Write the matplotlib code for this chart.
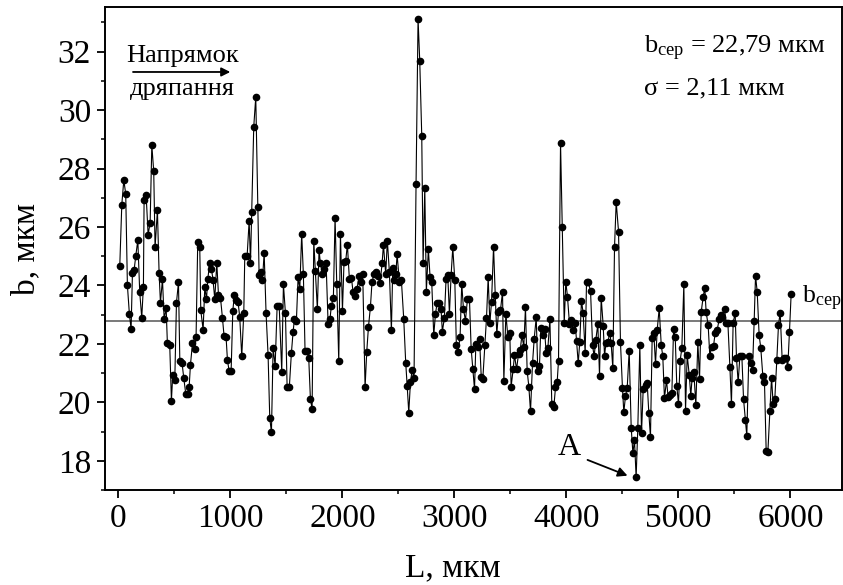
import matplotlib
matplotlib.use("Agg")
import matplotlib.pyplot as plt
from matplotlib.ticker import MultipleLocator

plt.rcParams['font.family'] = ['Liberation Serif', 'DejaVu Serif']
plt.rcParams['mathtext.fontset'] = 'custom'
plt.rcParams['mathtext.rm'] = 'Liberation Serif'
plt.rcParams['mathtext.it'] = 'Liberation Serif:italic'

# Scratch position along the track, µm
L_um = [
    12, 30, 48, 65, 80, 98, 113, 125, 140, 155, 173, 190, 208, 223, 229, 247, 265, 283, 298, 315,
    327, 348, 363, 375, 393, 408, 426, 437, 458, 473, 485, 503, 518, 536, 548, 568, 583, 601, 619, 631,
    643, 661, 682, 693, 708, 726, 735, 756, 771, 786, 798, 815, 830, 845, 860, 878, 893, 911, 929, 943,
    961, 973, 988, 1006, 1021, 1036, 1054, 1068, 1083, 1101, 1119, 1128, 1149, 1167, 1179, 1190, 1208, 1226, 1244, 1256,
    1274, 1286, 1301, 1318, 1336, 1351, 1366, 1381, 1399, 1417, 1435, 1458, 1473, 1491, 1506,
    1526, 1544, 1559, 1571, 1589, 1604, 1619, 1636, 1651, 1666, 1684, 1699, 1714, 1729, 1744, 1758, 1776, 1791, 1803, 1821,
    1839, 1854, 1872, 1889, 1901, 1919, 1934, 1949, 1967, 1982, 2000, 2014, 2029, 2044, 2062, 2080, 2095, 2110, 2130, 2148,
    2166, 2181, 2202, 2217, 2232, 2250, 2264, 2282, 2300, 2318, 2336, 2354, 2366, 2386, 2401, 2419, 2437, 2449, 2464, 2476,
    2488, 2508, 2526, 2547, 2565, 2578, 2592, 2607, 2622, 2639, 2657, 2675, 2690, 2708, 2720, 2735, 2749, 2767, 2782, 2797,
    2815, 2830, 2845, 2863, 2880, 2892, 2910, 2925, 2940, 2955, 2970, 2985, 3003, 3017, 3032, 3050, 3065, 3080, 3098,
    3116, 3134, 3149, 3164, 3179, 3191, 3209, 3224, 3239, 3253, 3271, 3286, 3301, 3316, 3331, 3349, 3364, 3378, 3393, 3411,
    3429, 3441, 3459, 3477, 3494, 3506, 3524, 3536, 3554, 3572, 3587, 3602, 3619, 3634, 3649, 3664, 3679, 3697, 3712, 3730,
    3744, 3759, 3771, 3789, 3804, 3819, 3834, 3852, 3869, 3887, 3902, 3917, 3929, 3947, 3962, 3980, 3994, 4009, 4027, 4042,
    4060, 4078, 4090, 4105, 4119, 4134, 4149, 4167, 4179, 4194, 4215, 4233, 4247, 4262, 4280, 4295, 4310, 4328, 4340, 4352,
    4369, 4387, 4399, 4414, 4429, 4444, 4465, 4482, 4500, 4512, 4527, 4542, 4560, 4578, 4593, 4607, 4622, 4637, 4655, 4670,
    4685,
    4706, 4721, 4735, 4750, 4765, 4780, 4795, 4810, 4828, 4846, 4860, 4875, 4893, 4908, 4923, 4941, 4956, 4971, 4985, 5000,
    5015, 5030, 5048, 5063, 5078, 5096, 5110, 5122, 5137, 5155, 5173, 5188, 5203, 5220, 5235, 5247, 5265, 5280, 5295, 5313,
    5328, 5346, 5363, 5378, 5393, 5411, 5426, 5441, 5459, 5473, 5488, 5506, 5518, 5533, 5548, 5566, 5581, 5598, 5610, 5628,
    5646, 5661, 5676, 5688, 5703, 5720, 5735, 5753, 5768, 5783, 5798, 5816, 5831, 5845, 5860, 5878, 5893, 5908, 5926, 5941,
    5959, 5976, 5991, 6006,
]

# Scratch width b, µm
b_um = [
    24.68, 26.77, 27.61, 27.13, 24.00, 23.01, 22.51, 24.42, 24.53, 25.02, 25.55, 23.77, 22.90, 23.96, 26.94, 27.11, 25.74, 26.15, 28.80, 27.91,
    25.30, 26.57, 24.42, 23.41, 24.21, 22.86, 23.22, 22.02, 21.95, 20.06, 20.95, 20.75, 23.41, 24.11, 21.42, 21.34, 20.84, 20.29, 20.29, 20.51,
    21.29, 22.02, 21.84, 22.23, 25.50, 25.30, 23.15, 22.49, 23.94, 23.53, 24.23, 24.78, 24.58, 24.17, 23.53, 24.78, 23.68, 23.58, 22.87, 22.27,
    22.23, 21.46, 21.07, 21.07, 23.14, 23.69, 23.51, 23.44, 22.91, 21.57, 23.05, 25.02, 25.02, 26.21, 24.78, 26.51, 29.43, 30.45, 26.70, 24.35,
    24.47, 24.19, 25.12, 23.05, 21.62, 19.46, 18.97, 21.87, 21.25, 23.31, 23.31, 21.05, 24.04, 23.05, 20.52,
    20.54, 21.68, 22.40, 22.84, 22.80, 24.30, 23.87, 25.77, 24.39, 21.76, 21.76, 21.51, 20.11, 19.77, 25.52, 24.51, 23.19, 25.22, 24.76, 24.39,
    24.55, 24.76, 22.68, 22.86, 23.31, 23.58, 26.32, 24.05, 21.40, 25.77, 23.14, 24.81, 24.84, 25.40, 24.21, 24.27, 23.76, 23.64, 23.88, 24.33,
    24.11, 24.38, 20.51, 21.74, 22.57, 23.28, 24.13, 24.38, 24.47, 24.33, 24.08, 24.76, 25.40, 24.38, 25.53, 24.46, 22.46, 24.59, 24.19, 24.38,
    25.06, 24.13, 24.19, 22.86, 21.34, 20.56, 19.65, 20.69, 21.11, 20.84, 27.46, 33.12, 31.69, 29.12, 24.76, 27.34, 23.79, 25.24, 24.30, 24.13,
    22.29, 23.01, 23.41, 23.39, 23.19, 22.42, 22.89, 24.22, 24.35, 23.03, 24.35, 25.30, 24.19, 21.95, 21.74, 22.23, 24.06, 23.21, 22.80,
    23.53, 23.53, 21.84, 21.13, 20.45, 21.99, 21.91, 22.18, 20.88, 20.79, 21.95, 22.88, 24.28, 22.71, 23.44, 25.33, 23.68, 22.33, 23.08, 23.16,
    23.78, 20.73, 23.04, 22.23, 22.36, 20.54, 21.13, 21.62, 21.13, 21.65, 21.79, 22.29, 21.91, 23.25, 21.08, 20.54, 19.69, 21.34, 22.18, 22.91,
    21.08, 21.25, 22.54, 22.31, 22.50, 21.68, 21.85, 22.86, 19.95, 19.83, 20.51, 20.69, 21.43, 28.89, 26.01, 22.71, 24.13, 23.62, 22.68, 22.82,
    22.48, 22.71, 22.11, 21.34, 22.08, 23.48, 23.05, 21.68, 24.12, 24.11, 23.82, 21.95, 21.57, 22.14, 22.68, 20.91, 23.58, 22.62, 21.59, 22.02,
    22.05, 22.39, 22.02, 21.16, 25.31, 26.86, 25.84, 22.07, 20.48, 19.66, 20.22, 20.48, 21.77, 19.13, 18.26, 18.72, 17.43, 19.13, 21.95, 18.94,
    20.45,
    20.60, 20.65, 19.65, 18.81, 22.19, 22.36, 21.30, 22.48, 23.22, 21.97, 21.57, 20.14, 20.75, 20.18, 20.26, 20.31, 22.50, 22.25, 20.56, 19.95,
    21.43, 21.85, 24.05, 19.72, 21.62, 20.94, 20.23, 20.85, 21.05, 19.91, 22.05, 20.79, 23.09, 23.60, 23.92, 23.09, 22.64, 21.57, 21.91, 21.93,
    22.39, 22.48, 22.84, 23.00, 22.93, 23.19, 22.73, 22.73, 21.22, 19.94, 22.71, 23.07, 21.51, 20.68, 21.57, 21.57, 20.11, 19.38, 18.85, 21.57,
    21.34, 21.11, 22.80, 24.33, 23.78, 22.31, 21.85, 20.91, 20.68, 18.34, 18.29, 19.72, 20.85, 19.95, 20.11, 21.45, 22.65, 23.07, 21.45, 21.51,
    21.51, 21.22, 22.42, 23.71,
]

b_mean = 22.79
sigma = 2.11

x_ticks = [0, 1000, 2000, 3000, 4000, 5000, 6000]
y_ticks = [18, 20, 22, 24, 26, 28, 30, 32]

fig = plt.figure(figsize=(8.43, 5.85), dpi=100)
ax = fig.add_axes([105 / 843, 1 - 490 / 585, 737 / 843, 482.7 / 585])

ax.axhline(b_mean, color='#6e6e6e', lw=1.3, zorder=1)
ax.plot(L_um, b_um, color='black', lw=0.8, marker='o', markersize=4.5,
        markerfacecolor='black', markeredgecolor='black', zorder=3)

ax.set_xlim(-120, 6460)
ax.set_ylim(17.0, 33.52)
ax.set_xticks(x_ticks)
ax.set_yticks(y_ticks)
ax.xaxis.set_minor_locator(MultipleLocator(500))
ax.yaxis.set_minor_locator(MultipleLocator(1))
ax.tick_params(axis='both', which='major', direction='out', length=6, width=1.3,
               labelsize=24, top=False, right=False, pad=4)
ax.tick_params(axis='both', which='minor', direction='out', length=3.2, width=1.1,
               top=False, right=False)
for sp in ax.spines.values():
    sp.set_linewidth(1.4)

ax.set_xlabel('L, мкм', fontsize=24, labelpad=13, x=0.472)
ax.set_ylabel('b, мкм', fontsize=24, labelpad=12)

# Direction annotation
ax.text(0.105, 0.8867, 'Напрямок', transform=ax.transAxes, fontsize=19,
        ha='center', va='baseline')
ax.annotate('', xy=(0.170, 0.866), xytext=(0.038, 0.866), xycoords='axes fraction',
            textcoords='axes fraction',
            arrowprops=dict(arrowstyle='-|>', color='black', lw=1.3, mutation_scale=13,
                            shrinkA=0, shrinkB=0))
ax.text(0.105, 0.8183, 'дряпання', transform=ax.transAxes, fontsize=19,
        ha='center', va='baseline')

# Stats
ax.text(0.731, 0.9053, r'b$_{\mathrm{сер}}$ = ' + f'{b_mean:.2f}'.replace('.', ',') + ' мкм',
        transform=ax.transAxes, fontsize=19, ha='left', va='baseline')
ax.text(0.731, 0.8204, 'σ = ' + f'{sigma:.2f}'.replace('.', ',') + ' мкм',
        transform=ax.transAxes, fontsize=19, ha='left', va='baseline')

# Mean line label
ax.text(0.946, 0.387, r'b$_{\mathrm{сер}}$', transform=ax.transAxes, fontsize=18.5,
        ha='left', va='baseline')

# Point A
ax.text(4022, 18.21, 'A', fontsize=23, ha='center', va='baseline')
ax.annotate('', xy=(4545, 17.49), xytext=(4188, 18.03),
            arrowprops=dict(arrowstyle='-|>', color='black', lw=1.3, mutation_scale=14,
                            shrinkA=0, shrinkB=0))

fig.savefig('out.png', dpi=100)
